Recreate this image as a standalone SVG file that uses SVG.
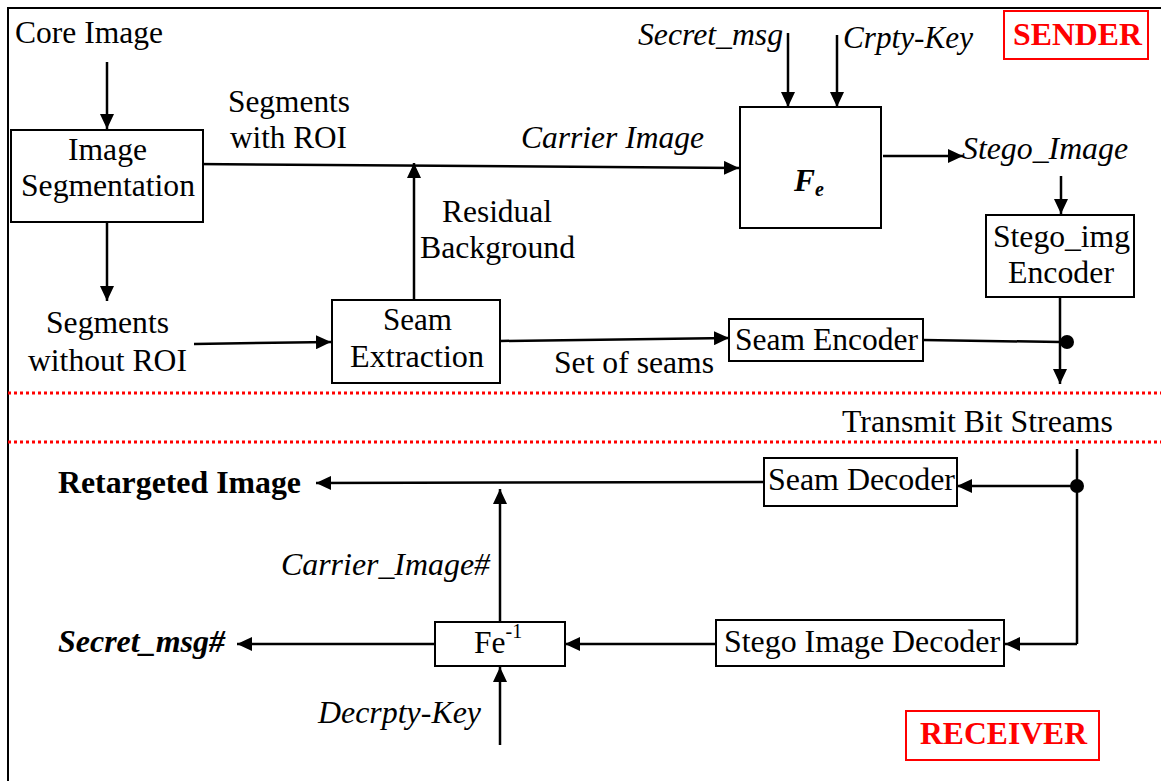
<svg xmlns="http://www.w3.org/2000/svg" width="1161" height="781" viewBox="0 0 1161 781">
<style>
  text { font-family: "Liberation Serif", "Times New Roman", serif; font-size: 31.5px; fill: #000; }
  .it { font-style: italic; }
  .b { font-weight: bold; }
  .red { fill: #ff0000; font-weight: bold; }
  .box { fill: #fff; stroke: #000; stroke-width: 2; }
  .rbox { fill: none; stroke: #ff0000; stroke-width: 2; }
  .ln { fill: none; stroke: #000; stroke-width: 2.5; }
  .arr { fill: none; stroke: #000; stroke-width: 2.5; marker-end: url(#ah); }
  .dot { fill: none; stroke: #ff0000; stroke-width: 3; stroke-dasharray: 3 3; }
</style>
<defs>
  <marker id="ah" markerUnits="userSpaceOnUse" markerWidth="16" markerHeight="14" refX="15" refY="7" orient="auto">
    <path d="M0,0 L15,7 L0,14 Z" fill="#000"/>
  </marker>
</defs>
<rect width="1161" height="781" fill="#fff"/>
<!-- frame -->
<path d="M8,781 L8,8 L1161,8" fill="none" stroke="#000" stroke-width="2"/>
<!-- red dotted separators -->
<line class="dot" x1="8" y1="393" x2="1161" y2="393"/>
<line class="dot" x1="8" y1="442" x2="1161" y2="442"/>

<g id="connectors">
  <line class="arr" x1="107" y1="62" x2="107" y2="129"/>
  <path class="arr" d="M195,164 L739,168"/>
  <line class="arr" x1="788" y1="33" x2="788" y2="107"/>
  <line class="arr" x1="837" y1="35" x2="837" y2="107"/>
  <line class="arr" x1="883" y1="156" x2="963" y2="156"/>
  <line class="arr" x1="1061" y1="176" x2="1061" y2="214"/>
  <line class="arr" x1="1060" y1="297" x2="1060" y2="384"/>
  <path class="ln" d="M923,340 L1060,342"/>
  <circle cx="1067" cy="342" r="7" fill="#000"/>
  <line class="arr" x1="107" y1="222" x2="107" y2="301"/>
  <path class="arr" d="M194,344 L331,342"/>
  <line class="arr" x1="414" y1="300" x2="414" y2="163"/>
  <path class="arr" d="M500,341 L729,338"/>
  <line class="ln" x1="1077" y1="449" x2="1077" y2="644"/>
  <circle cx="1077" cy="486" r="7" fill="#000"/>
  <line class="arr" x1="1077" y1="486" x2="957" y2="486"/>
  <path class="arr" d="M764,482 L316,483"/>
  <line class="arr" x1="1077" y1="644" x2="1005" y2="644"/>
  <line class="arr" x1="716" y1="644" x2="565" y2="644"/>
  <line class="arr" x1="435" y1="644" x2="237" y2="644"/>
  <line class="arr" x1="500" y1="623" x2="500" y2="489"/>
  <line class="arr" x1="500" y1="745" x2="500" y2="667"/>
</g>

<g id="core-image"><text x="15" y="43" textLength="148" lengthAdjust="spacingAndGlyphs">Core Image</text></g>

<g id="image-segmentation">
  <rect class="box" x="11" y="130" width="192" height="92"/>
  <text x="68" y="160" textLength="79" lengthAdjust="spacingAndGlyphs">Image</text>
  <text x="21" y="196" textLength="174" lengthAdjust="spacingAndGlyphs">Segmentation</text>
</g>

<g id="label-seg-roi">
  <text x="228" y="112" textLength="122" lengthAdjust="spacingAndGlyphs">Segments</text>
  <text x="230" y="148" textLength="117" lengthAdjust="spacingAndGlyphs">with ROI</text>
</g>

<g id="label-carrier"><text class="it" x="521" y="148" textLength="183" lengthAdjust="spacingAndGlyphs">Carrier Image</text></g>
<g id="label-secret"><text class="it" x="638" y="45" textLength="145" lengthAdjust="spacingAndGlyphs">Secret_msg</text></g>
<g id="label-crpty"><text class="it" x="843" y="48" textLength="130" lengthAdjust="spacingAndGlyphs">Crpty-Key</text></g>

<g id="fe">
  <rect class="box" x="740" y="107" width="141" height="121"/>
  <text class="b it" x="794" y="191">F<tspan font-size="20" dy="5">e</tspan></text>
</g>

<g id="sender">
  <rect class="rbox" x="1004" y="11" width="144" height="48"/>
  <text class="red" x="1013" y="45" textLength="129" lengthAdjust="spacingAndGlyphs">SENDER</text>
</g>

<g id="label-stego"><text class="it" x="962" y="159" textLength="166" lengthAdjust="spacingAndGlyphs">Stego_Image</text></g>

<g id="stego-encoder">
  <rect class="box" x="986" y="215" width="148" height="82"/>
  <text x="993" y="247" textLength="137" lengthAdjust="spacingAndGlyphs">Stego_img</text>
  <text x="1008" y="283" textLength="106" lengthAdjust="spacingAndGlyphs">Encoder</text>
</g>

<g id="label-residual">
  <text x="442" y="222" textLength="110" lengthAdjust="spacingAndGlyphs">Residual</text>
  <text x="420" y="258" textLength="155" lengthAdjust="spacingAndGlyphs">Background</text>
</g>

<g id="label-seg-noroi">
  <text x="46" y="333" textLength="123" lengthAdjust="spacingAndGlyphs">Segments</text>
  <text x="28" y="371" textLength="159" lengthAdjust="spacingAndGlyphs">without ROI</text>
</g>

<g id="seam-extraction">
  <rect class="box" x="332" y="300" width="168" height="83"/>
  <text x="383" y="330" textLength="69" lengthAdjust="spacingAndGlyphs">Seam</text>
  <text x="350" y="367" textLength="134" lengthAdjust="spacingAndGlyphs">Extraction</text>
</g>

<g id="label-seams"><text x="554" y="373" textLength="160" lengthAdjust="spacingAndGlyphs">Set of seams</text></g>

<g id="seam-encoder">
  <rect class="box" x="729" y="319" width="194" height="42"/>
  <text x="735" y="350" textLength="183" lengthAdjust="spacingAndGlyphs">Seam Encoder</text>
</g>

<g id="label-transmit"><text x="842" y="432" textLength="271" lengthAdjust="spacingAndGlyphs">Transmit Bit Streams</text></g>

<g id="seam-decoder">
  <rect class="box" x="764" y="458" width="193" height="48"/>
  <text x="768" y="490" textLength="187" lengthAdjust="spacingAndGlyphs">Seam Decoder</text>
</g>

<g id="retargeted"><text class="b" x="58" y="493" textLength="243" lengthAdjust="spacingAndGlyphs">Retargeted Image</text></g>
<g id="label-carrier2"><text class="it" x="281" y="575" textLength="209" lengthAdjust="spacingAndGlyphs">Carrier_Image#</text></g>

<g id="fe-inv">
  <rect class="box" x="435" y="622" width="130" height="44"/>
  <text x="474" y="653">Fe<tspan font-size="20" dy="-15">-1</tspan></text>
</g>

<g id="stego-decoder">
  <rect class="box" x="716" y="620" width="288" height="46"/>
  <text x="724" y="652" textLength="276" lengthAdjust="spacingAndGlyphs">Stego Image Decoder</text>
</g>

<g id="secret-out"><text class="b it" x="58" y="652" textLength="167" lengthAdjust="spacingAndGlyphs">Secret_msg#</text></g>
<g id="label-decrpty"><text class="it" x="318" y="723" textLength="163" lengthAdjust="spacingAndGlyphs">Decrpty-Key</text></g>

<g id="receiver">
  <rect class="rbox" x="906" y="711" width="193" height="49"/>
  <text class="red" x="920" y="744" textLength="167" lengthAdjust="spacingAndGlyphs">RECEIVER</text>
</g>
</svg>
